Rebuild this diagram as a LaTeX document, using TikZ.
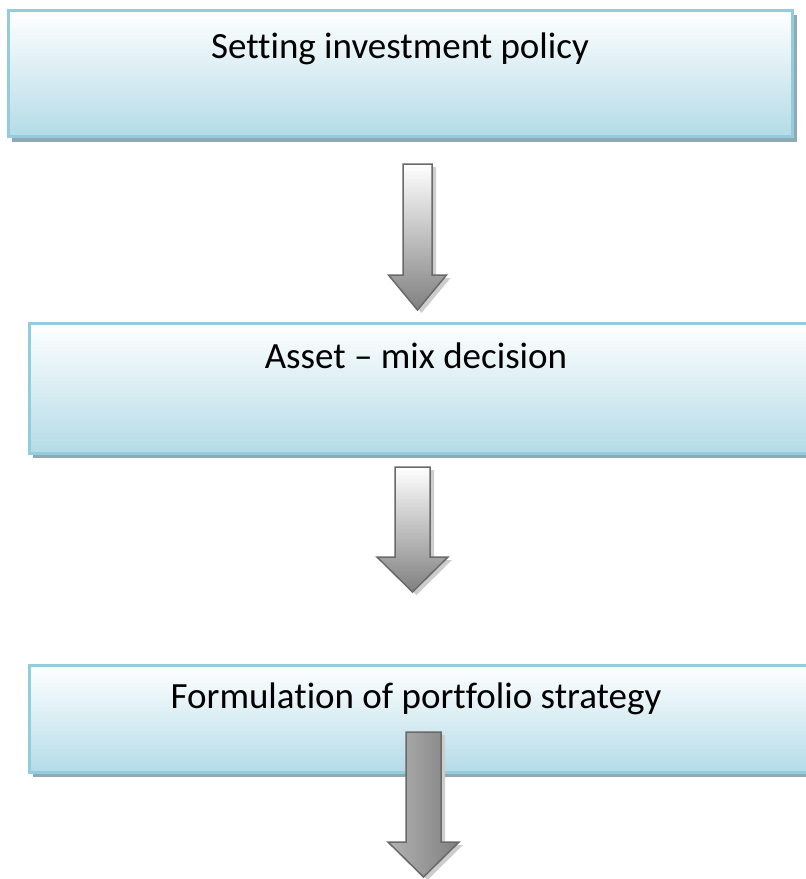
\documentclass[tikz,border=0pt]{standalone}
\usepackage{fontspec}
\setmainfont[Ligatures=NoCommon]{Carlito}
\usetikzlibrary{shadows}
\definecolor{boxline}{RGB}{146,205,221}
\definecolor{boxfill}{RGB}{180,219,231}
\definecolor{boxshade}{RGB}{143,170,178}
\definecolor{arrowline}{RGB}{105,105,105}
\definecolor{arrowdark}{RGB}{128,128,128}
\definecolor{arrowshade}{RGB}{205,205,205}
\tikzset{
	stage/.style={rectangle, inner sep=0pt, draw=boxline, line width=2.5bp,
		top color=white, middle color=boxfill!30, bottom color=boxfill,
		general shadow={fill=boxshade, shadow xshift=4bp, shadow yshift=-5bp}},
	stagetext/.style={anchor=base, inner sep=0pt, font=\fontsize{37bp}{44bp}\selectfont},
	blockarrow/.style={draw=arrowline, line width=1.5bp, line join=miter},
}
\begin{document}
\begin{tikzpicture}[x=1bp,y=-1bp]
		\useasboundingbox (0,0) rectangle (806,879);
		\clip (0,0) rectangle (806,879);
		% the three stages
		\node[stage, minimum width=784bp, minimum height=126bp] (policy) at (400.5,73.5) {};
		\node[stage, anchor=north west, minimum width=800bp, minimum height=130bp] (mix) at (28,322) {};
		\node[stage, anchor=north west, minimum width=800bp, minimum height=107bp] (strategy) at (28,664) {};
		\node[stagetext] (policytext) at (400,58) {Setting investment policy};
		\node[stagetext] (mixtext) at (416,368) {Asset – mix decision};
		\node[stagetext] (strategytext) at (416,708) {Formulation of portfolio strategy};
		% block arrows
		\foreach \c/\w/\h/\t/\s/\p in {417.5/14.5/29/164/275/310, 412.5/17.5/35.5/467/557/592}{
			\fill[arrowshade, shift={(4,3)}] (\c-\w,\t) -- (\c+\w,\t) -- (\c+\w,\s) -- (\c+\h,\s) -- (\c,\p) -- (\c-\h,\s) -- (\c-\w,\s) -- cycle;
			\draw[blockarrow, top color=white, bottom color=arrowdark] (\c-\w,\t) -- (\c+\w,\t) -- (\c+\w,\s) -- (\c+\h,\s) -- (\c,\p) -- (\c-\h,\s) -- (\c-\w,\s) -- cycle;
		}
		\fill[arrowshade, shift={(4,3)}] (406,732) -- (441,732) -- (441,842) -- (459,842) -- (423.5,877) -- (388,842) -- (406,842) -- cycle;
		\draw[blockarrow, left color=black!30, middle color=black!12, right color=black!50] (406,732) -- (441,732) -- (441,842) -- (459,842) -- (423.5,877) -- (388,842) -- (406,842) -- cycle;
\end{tikzpicture}
\end{document}
